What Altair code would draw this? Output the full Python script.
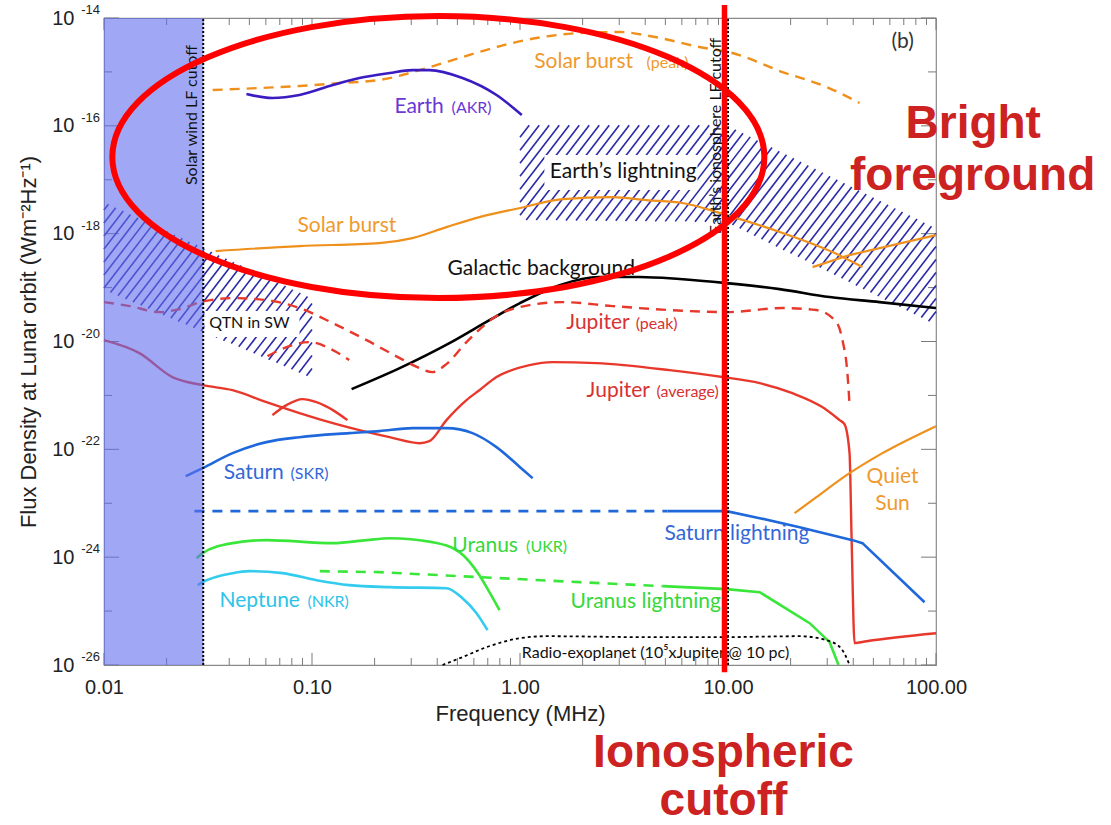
import numpy as np
import pandas as pd
import altair as alt

# Plot geometry and axis domains
W, H = 832, 647
F_MIN, F_MAX = 0.01, 100.0          # MHz
S_MIN, S_MAX = 1e-26, 1e-14         # W m^-2 Hz^-1

AXIS_FONT = "Liberation Sans"
LABEL_FONT = "Lato"

# ---------------------------------------------------------------- spectra
galactic_f = [0.155, 0.264, 0.458, 0.713, 1.0, 1.55, 2.41, 3.76, 5.85, 9.84, 17.7, 30.8, 53.5, 100.0]
galactic_s = [1.31e-21, 3.21e-21, 9.34e-21, 2.49e-20, 5.16e-20, 1.11e-19, 1.57e-19, 1.57e-19,
              1.44e-19, 1.21e-19, 9.37e-20, 6.67e-20, 5.38e-20, 4.17e-20]

solar_f = [0.0344, 0.0871, 0.211, 0.304, 0.443, 0.638, 1.0, 1.60, 2.78, 4.06, 6.04, 9.84, 18.3, 31.8, 44.3]
solar_s = [4.75e-19, 5.89e-19, 6.69e-19, 8.28e-19, 1.32e-18, 2.03e-18, 2.99e-18, 4.38e-18, 4.78e-18,
           4.20e-18, 3.70e-18, 2.21e-18, 1.03e-18, 4.56e-19, 2.40e-19]

solar_hf_f = [25.5, 38.4, 100.0]
solar_hf_s = [2.40e-19, 4.01e-19, 9.42e-19]

solar_peak_f = [0.0333, 0.056, 0.0871, 0.136, 0.211, 0.329, 0.443, 0.638, 0.920, 1.39, 1.93, 3.01,
                4.20, 7.29, 10.5, 18.3, 29.8, 42.9]
solar_peak_s = [4.62e-16, 5.03e-16, 5.47e-16, 6.23e-16, 7.08e-16, 1.08e-15, 1.53e-15, 2.34e-15,
                3.44e-15, 4.64e-15, 5.27e-15, 5.50e-15, 4.64e-15, 2.90e-15, 2.24e-15, 9.95e-16,
                5.25e-16, 2.65e-16]

akr_f = [0.0484, 0.0645, 0.0871, 0.126, 0.169, 0.236, 0.304, 0.367, 0.529, 0.771, 1.02]
akr_s = [3.89e-16, 3.28e-16, 3.73e-16, 5.71e-16, 7.71e-16, 9.54e-16, 1.08e-15, 1.08e-15,
         7.71e-16, 3.73e-16, 1.59e-16]

jup_peak_f = [0.0100, 0.0133, 0.0185, 0.0231, 0.0304, 0.0424, 0.0604, 0.0871, 0.126, 0.183, 0.264,
              0.329, 0.379, 0.443, 0.553, 0.771, 1.11, 1.60, 2.78, 5.24, 9.84, 18.3, 26.6, 33.2,
              35.5, 37.5, 38.4]
jup_peak_s = [5.38e-20, 4.54e-20, 3.51e-20, 3.99e-20, 5.62e-20, 6.38e-20, 5.86e-20, 4.17e-20,
              2.19e-20, 1.06e-20, 4.92e-21, 3.21e-21, 2.70e-21, 3.81e-21, 9.75e-21, 2.96e-20,
              4.73e-20, 5.38e-20, 4.54e-20, 3.83e-20, 3.51e-20, 4.17e-20, 3.83e-20, 2.29e-20,
              1.06e-20, 2.59e-21, 6.90e-22]

jup_peak_lf_f = [0.0611, 0.0754, 0.0973, 0.126, 0.151]
jup_peak_lf_s = [5.36e-21, 7.87e-21, 9.75e-21, 6.92e-21, 4.52e-21]

jup_avg_f = [0.0100, 0.0148, 0.0213, 0.0298, 0.0415, 0.0604, 0.0871, 0.126, 0.169, 0.236, 0.329,
             0.367, 0.443, 0.553, 0.638, 0.771, 1.11, 1.43, 2.33, 5.24, 9.42, 14.2, 20.4, 28.4,
             34.4, 36.3, 38.4, 39.3, 40.6, 46.3, 100.0]
jup_avg_s = [1.06e-20, 6.09e-21, 2.19e-21, 1.55e-21, 1.25e-21, 7.51e-22, 4.70e-22, 3.06e-22,
             2.27e-22, 1.68e-22, 1.30e-22, 1.42e-22, 3.48e-22, 8.18e-22, 1.25e-21, 2.19e-21,
             3.65e-21, 4.15e-21, 3.97e-21, 2.94e-21, 2.19e-21, 1.69e-21, 1.10e-21, 6.07e-22,
             3.48e-22, 2.94e-22, 8.50e-23, 2.07e-24, 2.54e-26, 2.76e-26, 3.89e-26]

jup_avg_lf_f = [0.0645, 0.0754, 0.0900, 0.105, 0.126, 0.148]
jup_avg_lf_s = [4.31e-22, 6.61e-22, 8.54e-22, 7.51e-22, 5.34e-22, 3.48e-22]

skr_f = [0.0247, 0.0298, 0.0415, 0.0604, 0.0871, 0.151, 0.211, 0.304, 0.443, 0.591, 0.771, 1.0, 1.15]
skr_s = [3.18e-23, 4.48e-23, 8.50e-23, 1.36e-22, 1.68e-22, 2.00e-22, 2.18e-22, 2.47e-22, 2.47e-22,
         2.00e-22, 1.10e-22, 4.67e-23, 2.92e-23]

sat_ltg_dash_f = [0.0272, 5.12]
sat_ltg_dash_s = [7.13e-24, 7.13e-24]
sat_ltg_f = [5.12, 9.84, 14.2, 22.1, 39.7, 44.3, 88.1]
sat_ltg_s = [7.13e-24, 7.13e-24, 5.29e-24, 3.60e-24, 2.07e-24, 1.82e-24, 1.46e-25]

ukr_f = [0.0279, 0.0298, 0.0415, 0.0604, 0.126, 0.183, 0.236, 0.379, 0.512, 0.638, 0.713, 0.797]
ukr_s = [9.58e-25, 1.19e-24, 1.82e-24, 2.07e-24, 1.82e-24, 2.07e-24, 2.25e-24, 1.90e-24,
         1.24e-24, 4.63e-25, 2.24e-25, 1.04e-25]

ura_ltg_dash_f = [0.109, 0.211, 0.638, 1.93, 4.84]
ura_ltg_dash_s = [5.50e-25, 5.27e-25, 4.26e-25, 3.44e-25, 2.90e-25]
ura_ltg_f = [4.84, 9.84, 14.2, 24.7, 30.8, 34.0]
ura_ltg_s = [2.90e-25, 2.55e-25, 2.24e-25, 5.97e-26, 2.65e-26, 1.0e-26]

nkr_f = [0.0282, 0.0298, 0.0415, 0.0501, 0.0721, 0.105, 0.151, 0.236, 0.443, 0.529, 0.618, 0.698]
nkr_s = [3.03e-25, 3.44e-25, 5.05e-25, 5.50e-25, 5.05e-25, 3.74e-25, 3.03e-25, 2.78e-25,
         2.66e-25, 1.73e-25, 9.14e-26, 4.43e-26]

quiet_f = [20.9, 26.6, 38.4, 55.3, 100.0]
quiet_s = [6.54e-24, 1.30e-23, 3.61e-23, 8.50e-23, 2.69e-22]

exo_f = [0.424, 0.529, 0.690, 1.0, 1.34, 4.20, 8.81, 22.1, 30.8, 35.5, 38.4]
exo_s = [1.0e-26, 1.40e-26, 2.14e-26, 3.14e-26, 3.42e-26, 3.28e-26, 3.28e-26, 3.42e-26,
         2.76e-26, 1.88e-26, 1.0e-26]

# ---------------------------------------------------------------- hatched bands
lightning_f = [1.0, 9.84, 100.0]
lightning_lo = [1.79e-18, 1.64e-18, 2.01e-20]
lightning_hi = [1.03e-16, 1.03e-16, 1.27e-18]

qtn_f = [0.01, 0.1]
qtn_lo = [8.99e-20, 2.09e-21]
qtn_hi = [3.86e-18, 6.38e-20]

# cutoffs
SOLAR_WIND_CUTOFF = 0.03
IONO_CUTOFF = 10.0
IONO_MARK = 9.62

# ---------------------------------------------------------------- colours
ORANGE = "#f0901c"
ORANGE_TXT = "#ef9a30"
INDIGO = "#3b1cc2"
INDIGO_TXT = "#6a38d6"
RED = "#e8382c"
RED_TXT = "#d83232"
BLUE = "#1f68dc"
BLUE_TXT = "#3468d8"
GREEN = "#3ae63a"
GREEN_TXT = "#36d83a"
CYAN = "#33ccee"
CYAN_TXT = "#2dc3e8"
HATCH = "#2a2aa8"
TICK = "#7a7a7a"
ANNOT = "#cc2222"

xs = alt.Scale(type="log", domain=[F_MIN, F_MAX], nice=False)
ys = alt.Scale(type="log", domain=[S_MIN, S_MAX], nice=False)

x_axis = alt.Axis(
    values=[0.01, 0.1, 1.0, 10.0, 100.0], labelExpr="format(datum.value, '.2f')",
    ticks=False, domain=False, grid=False, labelFont=AXIS_FONT, labelFontSize=20,
    labelColor="#222", labelPadding=12, labelFlush=False, labelOverlap=False,
    title="Frequency (MHz)", titleFont=AXIS_FONT, titleFontSize=22, titleFontWeight="normal",
    titleColor="#222", titlePadding=6,
)
y_axis = alt.Axis(
    values=[10.0 ** e for e in range(-26, -13, 2)], labelExpr="'10'",
    ticks=False, domain=False, grid=False, labelFont=AXIS_FONT, labelFontSize=20,
    labelColor="#222", labelPadding=30, labelFlush=False, labelOverlap=False,
    title="Flux Density at Lunar orbit (Wm\u207b\u00b2Hz\u207b\u00b9)", titleFont=AXIS_FONT,
    titleFontSize=22, titleFontWeight="normal", titleColor="#222", titlePadding=11,
)


def X(field):
    return alt.X(f"{field}:Q", scale=xs, axis=x_axis)


def Y(field):
    return alt.Y(f"{field}:Q", scale=ys, axis=y_axis)


def curve(f, s, color, width=2.6, dash=None, interp="monotone"):
    df = pd.DataFrame({"f": f, "s": s, "i": range(len(f))})
    kw = dict(color=color, strokeWidth=width, interpolate=interp, strokeCap="butt")
    if dash:
        kw["strokeDash"] = dash
    return alt.Chart(df).mark_line(**kw).encode(x=X("f"), y=Y("s"), order="i:O")


def hatch_segments(freq, lower, upper, step=10.0, slope=1.3):
    """Diagonal hatch lines filling the band between lower and upper."""
    lf0, ls0 = np.log10(F_MIN), np.log10(S_MIN)
    kx = W / (np.log10(F_MAX) - lf0)
    ky = H / (np.log10(S_MAX) - ls0)
    u = (np.log10(freq) - lf0) * kx
    lo = (np.log10(lower) - ls0) * ky
    hi = (np.log10(upper) - ls0) * ky
    uu = np.append(np.arange(u[0], u[-1], 0.25), u[-1])
    lo_u = np.interp(uu, u, lo)
    hi_u = np.interp(uu, u, hi)
    dc = slope * step
    c0 = np.floor((lo_u.min() - slope * uu.max()) / dc) * dc
    c1 = hi_u.max() - slope * uu.min() + dc
    rows = []
    for c in np.arange(c0, c1, dc):
        v = slope * uu + c
        idx = np.flatnonzero((v >= lo_u) & (v <= hi_u))
        if idx.size < 3:
            continue
        br = np.flatnonzero(np.diff(idx) > 1)
        starts = np.r_[idx[0], idx[br + 1]]
        ends = np.r_[idx[br], idx[-1]]
        for a, b in zip(starts, ends):
            if b - a < 2:
                continue
            rows.append({
                "f1": 10 ** (uu[a] / kx + lf0), "s1": 10 ** (v[a] / ky + ls0),
                "f2": 10 ** (uu[b] / kx + lf0), "s2": 10 ** (v[b] / ky + ls0),
            })
    return pd.DataFrame(rows)


# ---------------------------------------------------------------- frame ticks and axes
xt_major = pd.DataFrame({"f": [0.01, 0.1, 1.0, 10.0, 100.0]})
xt_minor = pd.DataFrame({"f": [m * 10.0 ** d for d in range(-2, 2) for m in range(2, 10)]})
yt_major = pd.DataFrame({"s": [10.0 ** e for e in range(-26, -13, 2)],
                         "e": [str(e) for e in range(-26, -13, 2)]})
yt_minor = pd.DataFrame({"s": [10.0 ** e for e in range(-25, -14, 2)]})

tick_rule = dict(color=TICK, strokeWidth=1)
ticks = [
    alt.Chart(xt_major).mark_rule(**tick_rule).encode(x=X("f"), y=alt.value(H), y2=alt.value(H - 12)),
    alt.Chart(xt_major).mark_rule(**tick_rule).encode(x=X("f"), y=alt.value(0), y2=alt.value(12)),
    alt.Chart(xt_minor).mark_rule(**tick_rule).encode(x=X("f"), y=alt.value(H), y2=alt.value(H - 7)),
    alt.Chart(xt_minor).mark_rule(**tick_rule).encode(x=X("f"), y=alt.value(0), y2=alt.value(7)),
    alt.Chart(yt_major).mark_rule(**tick_rule).encode(y=Y("s"), x=alt.value(0), x2=alt.value(15)),
    alt.Chart(yt_major).mark_rule(**tick_rule).encode(y=Y("s"), x=alt.value(W), x2=alt.value(W - 15)),
    alt.Chart(yt_minor).mark_rule(**tick_rule).encode(y=Y("s"), x=alt.value(0), x2=alt.value(8)),
    alt.Chart(yt_minor).mark_rule(**tick_rule).encode(y=Y("s"), x=alt.value(W), x2=alt.value(W - 8)),
    alt.Chart(yt_major).mark_text(align="right", baseline="middle", dx=-4, dy=-8, font=AXIS_FONT,
                                  fontSize=13, color="#222").encode(y=Y("s"), x=alt.value(0), text="e:N"),
]

# ---------------------------------------------------------------- hatching
hatch_df = pd.concat([hatch_segments(lightning_f, lightning_lo, lightning_hi),
                      hatch_segments(qtn_f, qtn_lo, qtn_hi)], ignore_index=True)
hatch = alt.Chart(hatch_df).mark_rule(color=HATCH, strokeWidth=1.6).encode(
    x=X("f1"), y=Y("s1"), x2="f2", y2="s2")

# white boxes behind the two band labels
knock_df = pd.DataFrame({"f1": [1.31, 0.0304], "f2": [7.13, 0.0871],
                         "s1": [6.44e-18, 1.21e-20], "s2": [2.87e-17, 3.66e-20]})
knock = alt.Chart(knock_df).mark_rect(color="white").encode(x=X("f1"), x2="f2", y=Y("s1"), y2="s2")

# ---------------------------------------------------------------- curves
curves = [
    curve(galactic_f, galactic_s, "black", 2.6),
    curve(solar_f, solar_s, ORANGE, 2.2),
    curve(solar_hf_f, solar_hf_s, ORANGE, 2.2, interp="linear"),
    curve(solar_peak_f, solar_peak_s, ORANGE, 2.4, dash=[10, 7]),
    curve(akr_f, akr_s, INDIGO, 2.6),
    curve(jup_peak_f, jup_peak_s, RED, 2.4, dash=[10, 7]),
    curve(jup_peak_lf_f, jup_peak_lf_s, RED, 2.4, dash=[10, 7]),
    curve(jup_avg_f, jup_avg_s, RED, 2.4),
    curve(jup_avg_lf_f, jup_avg_lf_s, RED, 2.4),
    curve(skr_f, skr_s, BLUE, 2.6),
    curve(sat_ltg_dash_f, sat_ltg_dash_s, BLUE, 2.6, dash=[10, 8], interp="linear"),
    curve(sat_ltg_f, sat_ltg_s, BLUE, 2.6, interp="linear"),
    curve(ukr_f, ukr_s, GREEN, 2.6),
    curve(ura_ltg_dash_f, ura_ltg_dash_s, GREEN, 2.6, dash=[10, 8], interp="linear"),
    curve(ura_ltg_f, ura_ltg_s, GREEN, 2.6, interp="linear"),
    curve(nkr_f, nkr_s, CYAN, 2.6),
    curve(quiet_f, quiet_s, ORANGE, 2.2),
    curve(exo_f, exo_s, "black", 1.8, dash=[3, 3]),
]

# ---------------------------------------------------------------- solar-wind shading and cutoffs
band = alt.Chart(pd.DataFrame({"f1": [F_MIN], "f2": [SOLAR_WIND_CUTOFF], "s1": [S_MIN], "s2": [S_MAX]})
                 ).mark_rect(color="#616eee", opacity=0.6).encode(x=X("f1"), x2="f2", y=Y("s1"), y2="s2")

cut_df = pd.DataFrame({"f": [SOLAR_WIND_CUTOFF, IONO_CUTOFF], "s1": [S_MIN] * 2, "s2": [S_MAX] * 2})
cutoffs = alt.Chart(cut_df).mark_rule(color="black", strokeWidth=2, strokeDash=[2, 2]).encode(
    x=X("f"), y=Y("s1"), y2="s2")

# ---------------------------------------------------------------- labels
lab_text = ["Solar burst", "(peak)", "Earth", "(AKR)", "Earth\u2019s lightning", "Solar burst",
            "Galactic background", "Jupiter", "(peak)", "Jupiter", "(average)", "QTN in SW",
            "Saturn", "(SKR)", "Saturn lightning", "Uranus", "(UKR)", "Uranus lightning",
            "Neptune", "(NKR)", "Radio-exoplanet (10\u2075xJupiter @ 10 pc)", "(b)"]
lab_f = [1.17, 4.06, 0.249, 0.469, 1.39, 0.0851, 0.448, 1.67, 3.60, 2.09, 4.53, 0.0321,
         0.0376, 0.0789, 4.95, 0.473, 1.07, 1.75, 0.0359, 0.0951, 1.02, 61.1]
lab_s = [1.18e-15, 1.18e-15, 1.73e-16, 1.73e-16, 1.08e-17, 1.07e-18, 1.71e-19, 1.70e-20, 1.70e-20,
         9.29e-22, 9.29e-22, 1.77e-20, 2.80e-23, 2.80e-23, 2.07e-24, 1.24e-24, 1.24e-24, 1.13e-25,
         1.18e-25, 1.18e-25, 1.34e-26, 2.77e-15]
lab_size = [21, 16, 21, 16, 21, 21, 21, 21, 16, 21, 16, 16, 21, 16, 21, 21, 16, 21, 21, 16, 16, 21]
lab_color = [ORANGE_TXT, ORANGE_TXT, INDIGO_TXT, INDIGO_TXT, "#111", ORANGE_TXT, "#111", RED_TXT,
             RED_TXT, RED_TXT, RED_TXT, "#111", BLUE_TXT, BLUE_TXT, BLUE_TXT, GREEN_TXT, GREEN_TXT,
             GREEN_TXT, CYAN_TXT, CYAN_TXT, "#111", "#333"]
labels_df = pd.DataFrame({"t": lab_text, "f": lab_f, "s": lab_s, "size": lab_size, "c": lab_color})
labels = alt.Chart(labels_df).mark_text(align="left", baseline="alphabetic", font=LABEL_FONT).encode(
    x=X("f"), y=Y("s"), text="t:N", size=alt.Size("size:Q", scale=None),
    color=alt.Color("c:N", scale=None))

sun_df = pd.DataFrame({"t": ["Quiet", "Sun"], "f": [61.8, 61.8], "s": [2.36e-23, 7.45e-24]})
sun_labels = alt.Chart(sun_df).mark_text(align="center", baseline="alphabetic", font=LABEL_FONT,
                                         fontSize=21, color=ORANGE_TXT).encode(
    x=X("f"), y=Y("s"), text="t:N")

cut_lab_df = pd.DataFrame({"t": ["Solar wind LF cutoff", "Earth\u2019s ionosphere LF cutoff"],
                           "f": [0.0264, 8.71], "s": [1.58e-16, 6.47e-17]})
cut_labels = alt.Chart(cut_lab_df).mark_text(align="center", baseline="middle", angle=270,
                                             font=LABEL_FONT, fontSize=16, color="#111").encode(
    x=X("f"), y=Y("s"), text="t:N")

# ---------------------------------------------------------------- highlights
B_OVER_A = 0.4325
K = 0.5523
kb = K * B_OVER_A
ELLIPSE = (f"M -1 0 C -1 {-kb:.4f} {-K} {-B_OVER_A} 0 {-B_OVER_A} "
           f"C {K} {-B_OVER_A} 1 {-kb:.4f} 1 0 "
           f"C 1 {kb:.4f} {K} {B_OVER_A} 0 {B_OVER_A} "
           f"C {-K} {B_OVER_A} -1 {kb:.4f} -1 0 Z")
ellipse = alt.Chart(pd.DataFrame({"f": [0.405], "s": [2.64e-17]})).mark_point(
    shape=ELLIPSE, size=652 ** 2, filled=False, color="#ff0000", strokeWidth=6, opacity=1).encode(
    x=X("f"), y=Y("s"))

iono_line = alt.Chart(pd.DataFrame({"f": [IONO_MARK], "s1": [1.74e-14], "s2": [7.35e-27]})).mark_rule(
    color="#ff0000", strokeWidth=5.5).encode(x=X("f"), y=Y("s1"), y2="s2")

big_df = pd.DataFrame({"t": ["Bright", "foreground", "Ionospheric", "cutoff"],
                       "f": [151.0, 150.0, 9.51, 9.51],
                       "s": [5.94e-17, 6.44e-18, 1.27e-28, 1.68e-29]})
big_labels = alt.Chart(big_df).mark_text(align="center", baseline="alphabetic", font=AXIS_FONT,
                                         fontWeight="bold", fontSize=46, color=ANNOT).encode(
    x=X("f"), y=Y("s"), text="t:N")

chart = alt.layer(
    *ticks, hatch, knock, *curves, band, cutoffs, labels, sun_labels, cut_labels,
    ellipse, iono_line, big_labels,
).properties(
    width=W, height=H,
    autosize=alt.AutoSizeParams(type="none"),
    padding={"left": 104, "top": 18, "right": 175, "bottom": 160},
    background="white",
).configure_view(stroke="#8a8a8a", strokeWidth=1.2)

chart.save("out.html", embed_options={"renderer": "svg", "actions": False})
